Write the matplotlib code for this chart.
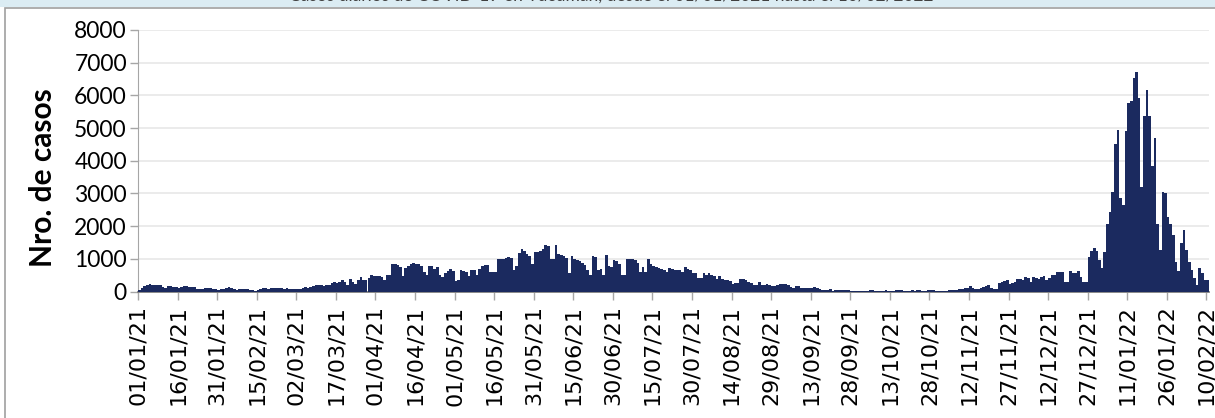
import numpy as np
import pandas as pd
import matplotlib
matplotlib.use("Agg")
import matplotlib.pyplot as plt
from matplotlib.patches import Rectangle

# casos diarios, en bloques de 15 dias desde el 01/01/2021
casos_2021 = [
    50, 110, 160, 200, 215, 210, 200, 205, 195, 140, 120, 180, 160, 150, 140,
    120, 130, 180, 170, 150, 140, 130, 80, 70, 90, 100, 110, 120, 90, 70,
    60, 70, 90, 110, 130, 110, 80, 60, 65, 70, 90, 85, 60, 45, 30,
    50, 90, 100, 95, 90, 95, 100, 110, 105, 100, 90, 95, 85, 80, 70,
    80, 90, 120, 130, 110, 130, 170, 200, 210, 190, 170, 200, 210, 270, 280,
    260, 300, 350, 300, 200, 380, 290, 230, 360, 430, 350, 340, 400, 500, 470,
    460, 470, 450, 350, 500, 520, 840, 830, 800, 760, 460, 720, 780, 830, 870,
    850, 830, 790, 610, 490, 790, 770, 700, 760, 520, 440, 560, 620, 680, 640,
    330, 350, 650, 640, 600, 480, 650, 660, 520, 690, 780, 800, 820, 610, 590,
    590, 980, 980, 990, 1040, 1050, 1030, 650, 790, 1190, 1290, 1240, 1140, 1100, 840,
    1210, 1200, 1250, 1290, 1430, 1380, 980, 1000, 1430, 1150, 1110, 1080, 1020, 580, 1100,
    980, 960, 920, 880, 800, 660, 520, 1090, 1060, 650, 700, 520, 1110, 790, 750,
    950, 920, 850, 510, 520, 980, 1000, 990, 950, 860, 590, 740, 600, 1000, 830,
    780, 760, 720, 700, 650, 610, 720, 680, 670, 660, 650, 610, 740, 700, 660,
    580, 560, 420, 400, 560, 520, 560, 500, 470, 380, 460, 380, 360, 340, 320,
    230, 250, 270, 380, 390, 340, 300, 270, 210, 200, 280, 210, 190, 230, 200,
    170, 160, 200, 230, 240, 230, 190, 130, 120, 170, 160, 120, 100, 110, 120,
    120, 130, 110, 70, 50, 40, 35, 70, 30, 60, 60, 40, 40, 50, 60,
    20, 15, 10, 20, 15, 10, 20, 50, 50, 20, 15, 20, 25, 40, 30,
    20, 15, 50, 60, 40, 20, 25, 30, 40, 30, 35, 45, 30, 20, 40,
    40, 50, 30, 10, 15, 20, 30, 40, 50, 45, 60, 70, 90, 100, 110,
    160, 120, 80, 90, 100, 150, 160, 190, 110, 80, 90, 250, 280, 330, 340,
    220, 250, 300, 390, 380, 350, 440, 420, 290, 440, 400, 380, 450, 460, 350,
    420, 490, 520, 600, 610, 600, 290, 300, 620, 570, 580, 630, 440, 300, 280,
    1050, 1250, 1330, 1250, 950,
]
casos_2022 = [
    720, 1200, 2080, 2420, 3050, 4500, 4930, 2850, 2650, 4900,
    5770, 5830, 6540, 6700, 5930, 3210, 5380, 6150, 5360, 3830, 4700, 2080, 1260, 3030, 3000,
    2290, 2080, 1720, 900, 625, 1490, 1880, 1280, 900, 670, 420, 185, 730, 560, 360,
    360,
]

casos = casos_2021 + casos_2022
fechas = pd.date_range("2021-01-01", periods=len(casos), freq="D")
paso_ticks = 15

titulo = "Casos diarios de COVID-19 en Tucumán, desde el 01/01/2021 hasta el 10/02/2022"
color_barra = "#1b2a5f"

fig = plt.figure(figsize=(12.15, 4.18), dpi=100)

# franja superior y marco del grafico
fig.patches.append(Rectangle((0, 1 - 7 / 418), 1, 7 / 418, transform=fig.transFigure,
                             facecolor="#dbecf3", edgecolor="none", zorder=-2))
fig.patches.append(Rectangle((5 / 1215, -0.01), 1.0, 1 - 8 / 418 + 0.01, transform=fig.transFigure,
                             facecolor="white", edgecolor="#a0a0a0", linewidth=1.2, zorder=-1))
fig.text(0.503, 1 - 1 / 418, titulo, ha="center", va="baseline", fontsize=12.5,
         family="Lato", color="#404040", zorder=-1)

ax = fig.add_axes([138 / 1215, 1 - 291.5 / 418, (1209 - 138) / 1215, (291.5 - 30) / 418])
ax.set_zorder(2)
ax.patch.set_alpha(0)
x = np.arange(len(casos))
ax.bar(x, casos, width=1.0, align="edge", color=color_barra, linewidth=0, zorder=3)

ax.set_xlim(0, len(casos))
ax.set_ylim(0, 8000)
ax.set_yticks(np.arange(0, 8001, 1000))
ax.set_yticklabels([str(v) for v in range(0, 8001, 1000)], family="Lato", fontsize=16.5)
ticks = x[::paso_ticks]
ax.set_xticks(ticks)
ax.set_xticklabels([fechas[i].strftime("%d/%m/%y") for i in ticks], rotation=90,
                   family="DejaVu Sans", fontsize=16)
ax.grid(axis="y", color="#e8e8e8", linewidth=1.2, zorder=0)
ax.set_ylabel("Nro. de casos", family="Lato", fontweight="bold", fontsize=21.5)
ax.yaxis.set_label_coords((57 - 138) / 1071, (291.5 - 178) / 261.5)

for s in ["top", "right"]:
    ax.spines[s].set_visible(False)
ax.spines["left"].set_color("#a6a6a6")
ax.spines["bottom"].set_color("#7f7f7f")
ax.spines["bottom"].set_linewidth(1.3)
ax.tick_params(axis="both", colors="#a6a6a6", labelcolor="black", length=6, width=1)
ax.tick_params(axis="y", pad=2)
ax.tick_params(axis="x", pad=4)

fig.savefig("out.png", dpi=100)
